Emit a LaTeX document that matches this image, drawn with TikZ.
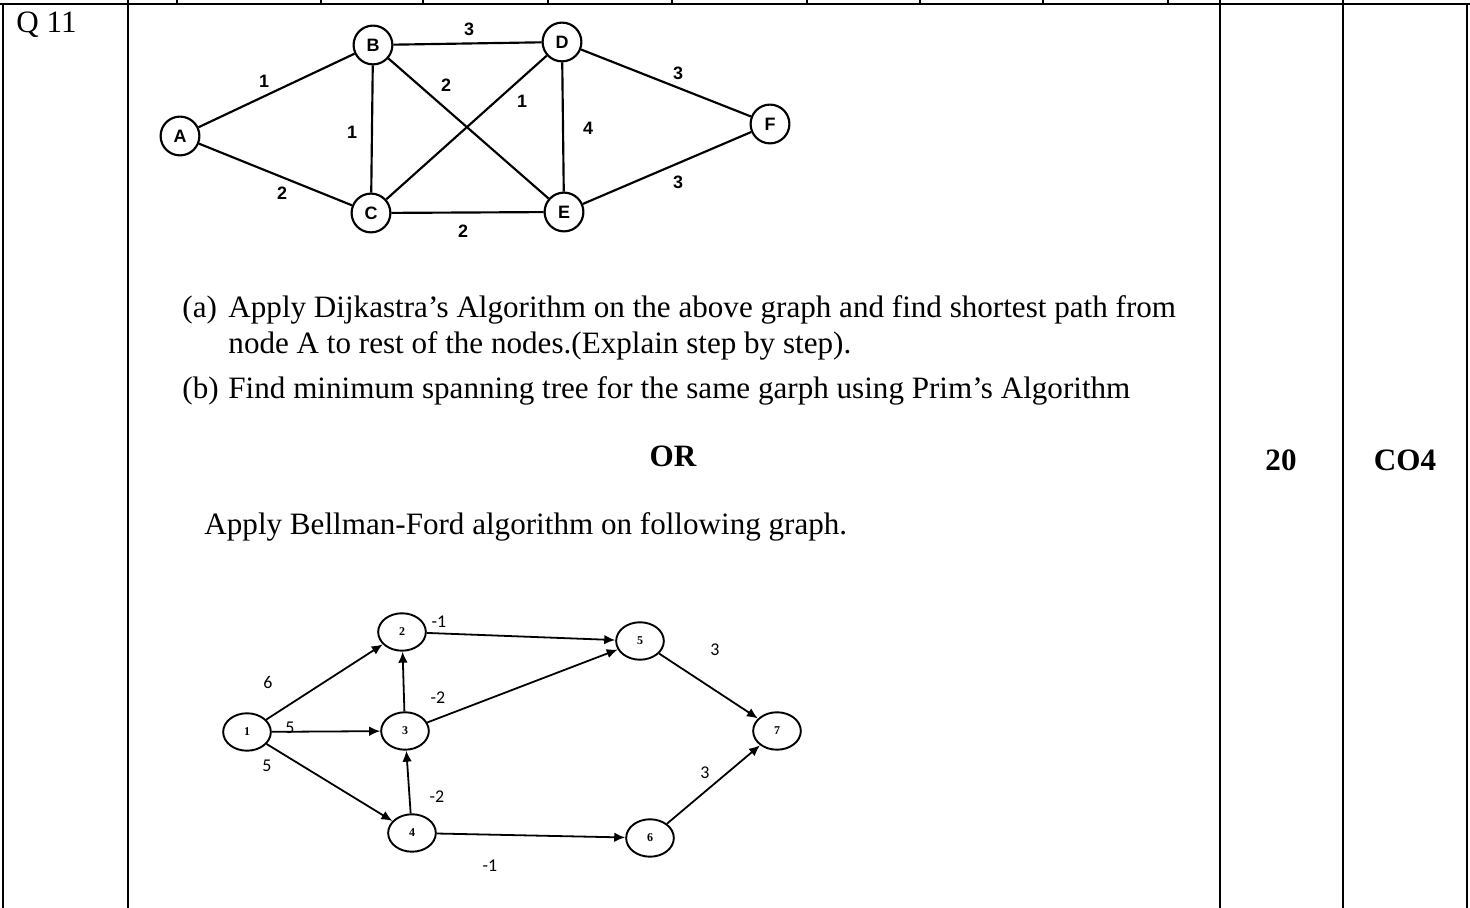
\documentclass[tikz,border=0pt]{standalone}
\usepackage{fontspec}
\setmainfont{Liberation Serif}
\newfontfamily\graphfont{Liberation Sans}
\newfontfamily\calfont{Carlito}
\usetikzlibrary{arrows.meta,shapes.geometric}

\begin{document}
\begin{tikzpicture}[x=0.1469mm,y=-0.1469mm,
  every node/.style={font=\fontsize{13}{15}\selectfont},
  vtx/.style={draw,circle,line width=0.9pt,inner sep=0pt,minimum size=5.7mm,
    font=\graphfont\bfseries\fontsize{7.5}{9}\selectfont},
  wt/.style={font=\graphfont\bfseries\fontsize{7.5}{9}\selectfont},
  bvtx/.style={draw,ellipse,line width=0.8pt,inner sep=0pt,minimum width=7mm,
    minimum height=5.5mm,font=\bfseries\fontsize{5}{6}\selectfont},
  bwt/.style={font=\calfont\fontsize{7.5}{9}\selectfont},
  arc/.style={line width=0.75pt,-{Latex[length=4.6pt,width=4pt]}},
  rule/.style={line width=0.8pt}]
  \useasboundingbox (0,0) rectangle (1470,908);
  % table frame
  \draw[rule] (0,4) -- (1470,4);
  \foreach \tickx in {128,177,321,423,548,672,807,920,1043,1168,1220,1343}
    \draw[line width=0.5pt] (\tickx,0) -- (\tickx,4);
  \draw[line width=0.5pt] (3,4) -- (3,908);
  \foreach \colx in {128,1220,1343,1467}
    \draw[rule] (\colx,4) -- (\colx,908);
  \node[anchor=base west] (qno) at (8,33) {Q 11};
  % undirected graph
  \node[vtx] (A) at (180,136) {A};
  \node[vtx] (B) at (373,45) {B};
  \node[vtx] (D) at (562,42) {D};
  \node[vtx] (C) at (371,213) {C};
  \node[vtx] (E) at (564,212) {E};
  \node[vtx] (F) at (770,124) {F};
  \draw[line width=0.9pt] (A) -- (B) (A) -- (C) (B) -- (D) (B) -- (C)
    (B) -- (E) (D) -- (C) (D) -- (E) (C) -- (E) (D) -- (F) (E) -- (F);
  \node[wt] (wAB) at (264,81) {1};
  \node[wt] (wBD) at (469,29) {3};
  \node[wt] (wBE) at (446,85) {2};
  \node[wt] (wDC) at (522,101) {1};
  \node[wt] (wBC) at (352,132) {1};
  \node[wt] (wDE) at (588,128) {4};
  \node[wt] (wDF) at (678,73) {3};
  \node[wt] (wEF) at (678,182) {3};
  \node[wt] (wAC) at (282,193) {2};
  \node[wt] (wCE) at (463,231) {2};
  % question text
  \node[anchor=base west] (qa) at (174,318) {(a)};
  \node[anchor=base west] (qa1) at (220,318)
    {Apply Dijkastra’s Algorithm on the above graph and find shortest path from};
  \node[anchor=base west] (qa2) at (220,354)
    {node A to rest of the nodes.(Explain step by step).};
  \node[anchor=base west] (qb) at (174,399) {(b)};
  \node[anchor=base west] (qb1) at (220,399)
    {Find minimum spanning tree for the same garph using Prim’s Algorithm};
  \node[font=\fontsize{13}{15}\selectfont\bfseries,anchor=base] (orw) at (673,467) {OR};
  \node[font=\fontsize{13}{15}\selectfont\bfseries,anchor=base] (marks) at (1281,471) {20};
  \node[font=\fontsize{13}{15}\selectfont\bfseries,anchor=base] (co) at (1405,471) {CO4};
  \node[anchor=base west] (qc) at (196,535)
    {Apply Bellman-Ford algorithm on following graph.};
  % directed graph
  \node[bvtx] (n1) at (247,732) {1};
  \node[bvtx] (n2) at (402,632) {2};
  \node[bvtx] (n3) at (405,731) {3};
  \node[bvtx] (n4) at (412,833) {4};
  \node[bvtx] (n5) at (640,641) {5};
  \node[bvtx] (n6) at (650,838) {6};
  \node[bvtx] (n7) at (777,731) {7};
  \draw[arc] (n1) -- (n2);
  \draw[arc] (n1) -- (n3);
  \draw[arc] (n1) -- (n4);
  \draw[arc] (n3) -- (n2);
  \draw[arc] (n4) -- (n3);
  \draw[arc] (n2) -- (n5);
  \draw[arc] (n3) -- (n5);
  \draw[arc] (n5) -- (n7);
  \draw[arc] (n4) -- (n6);
  \draw[arc] (n6) -- (n7);
  \node[bwt] (w25) at (439,622) {-1};
  \node[bwt] (w57) at (715,650) {3};
  \node[bwt] (w12) at (268,683) {6};
  \node[bwt] (w32) at (438,698) {-2};
  \node[bwt] (w13) at (290,728) {5};
  \node[bwt] (w14) at (267,766) {5};
  \node[bwt] (w43) at (437,797) {-2};
  \node[bwt] (w67) at (705,773) {3};
  \node[bwt] (w46) at (490,866) {-1};
\end{tikzpicture}
\end{document}
